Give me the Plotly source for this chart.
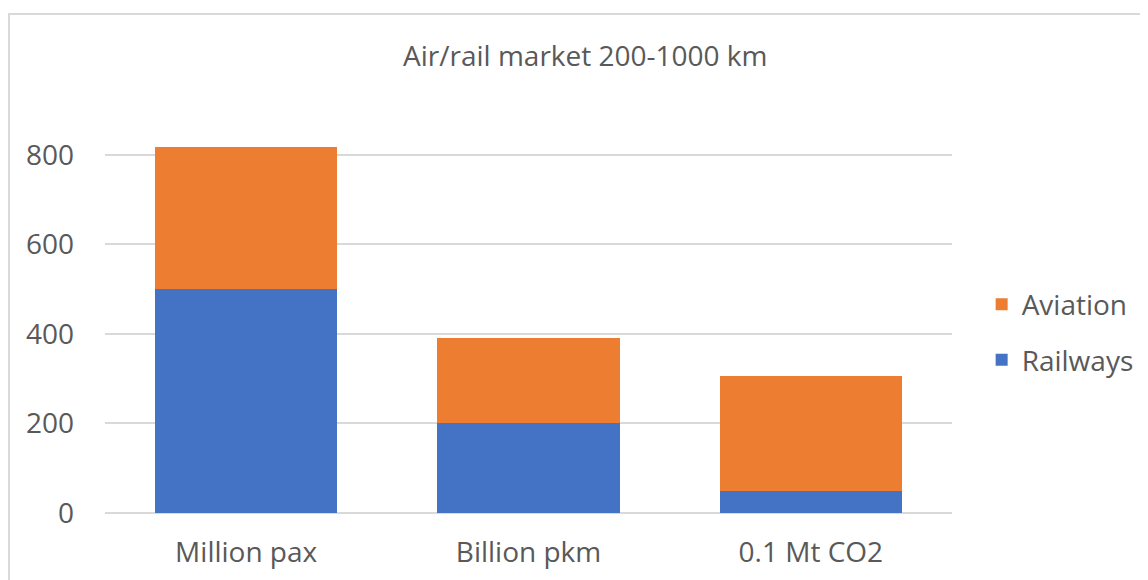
import plotly.graph_objs as go

# Dados
categorias = ["Million pax", "Billion pkm", "0.1 Mt CO2"]
railways = [500, 200, 50]
aviation = [318, 190, 257]

cor_rail = "#4472C4"
cor_avia = "#ED7D31"
cinza_texto = "#595959"
fonte = "Open Sans"

fig = go.Figure()
fig.add_trace(go.Bar(
    x=categorias,
    y=railways,
    name="Railways",
    legendgroup="rail",
    legendrank=2,
    marker=dict(color=cor_rail, line=dict(width=0))
))
fig.add_trace(go.Bar(
    x=categorias,
    y=aviation,
    name="Aviation",
    legendgroup="avia",
    legendrank=1,
    marker=dict(color=cor_avia, line=dict(width=0))
))

# a página tem 8px de margem no body, por isso a figura é 8px menor
fig.update_layout(
    width=1140,
    height=572,
    barmode="stack",
    bargap=0.355,
    plot_bgcolor="white",
    paper_bgcolor="white",
    margin=dict(l=97, r=196, t=129, b=67, autoexpand=False),
    font=dict(family=fonte, size=28, color=cinza_texto),
    showlegend=True,
    legend=dict(
        x=1.035, xanchor="left",
        y=0.481, yanchor="middle",
        traceorder="grouped",
        tracegroupgap=16,
        font=dict(size=28, color=cinza_texto),
        bgcolor="rgba(0,0,0,0)"
    ),
    xaxis=dict(
        showgrid=False,
        showline=False,
        ticks="",
        automargin=False,
        ticklabelstandoff=20,
        tickfont=dict(size=28, color=cinza_texto)
    ),
    yaxis=dict(
        range=[0, 840],
        tickvals=[0, 200, 400, 600, 800],
        showgrid=True,
        gridcolor="#D9D9D9",
        gridwidth=1.5,
        zeroline=True,
        zerolinecolor="#D9D9D9",
        zerolinewidth=1.5,
        showline=False,
        ticks="",
        automargin=False,
        ticklabelstandoff=30,
        tickfont=dict(size=28, color=cinza_texto)
    ),
    annotations=[dict(
        text="Air/rail market 200-1000 km",
        xref="paper", yref="paper",
        x=0.567, y=(513 - 55) / 376,
        xanchor="center", yanchor="middle",
        showarrow=False,
        font=dict(family=fonte, size=28, color=cinza_texto)
    )],
    shapes=[dict(
        type="rect",
        xref="paper", yref="paper",
        x0=(9 - 105) / 847, x1=(1170 - 105) / 847,
        y0=(513 - 600) / 376, y1=(513 - 14) / 376,
        line=dict(color="#D9D9D9", width=2),
        fillcolor="rgba(0,0,0,0)",
        layer="below"
    )]
)

fig.write_html("out.html")
